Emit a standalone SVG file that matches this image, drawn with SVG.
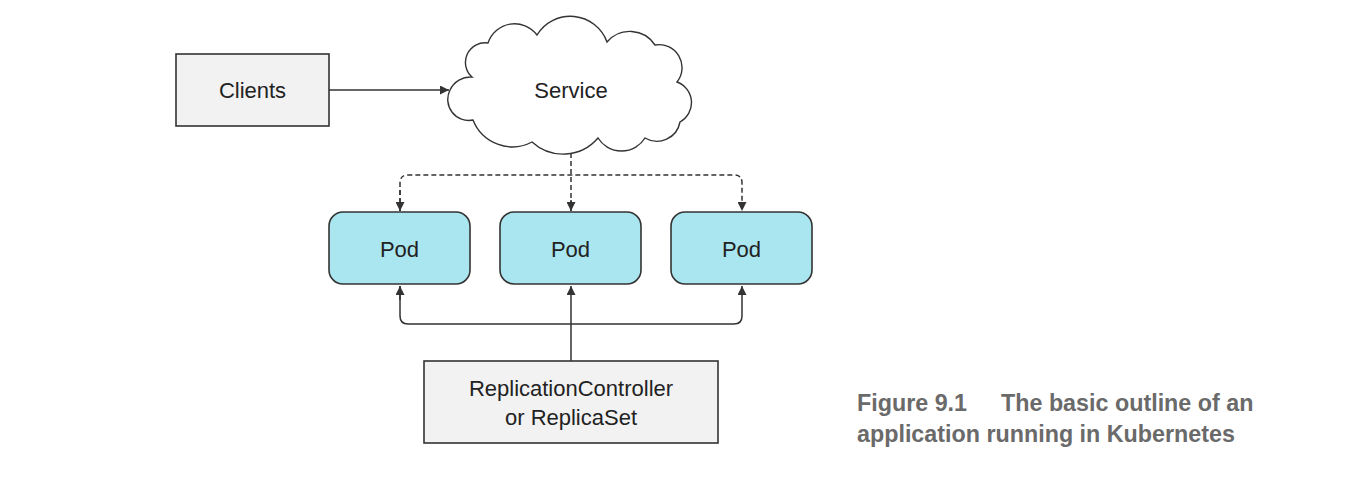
<svg xmlns="http://www.w3.org/2000/svg" width="1360" height="487" viewBox="0 0 1360 487">
<style>
.box{fill:#f2f2f2;stroke:#333;stroke-width:1.6}
.pod{fill:#aae6f0;stroke:#333;stroke-width:1.6}
.lbl{font-family:"Liberation Sans",Arial,sans-serif;font-size:22px;fill:#222;text-anchor:middle}
.cap{font-family:"Liberation Sans",Arial,sans-serif;font-size:23.3px;font-weight:bold;fill:#6a6a6a}
.ln{fill:none;stroke:#333;stroke-width:1.5}
.dash{stroke-dasharray:5 3}
</style>
<defs>
<marker id="ah" viewBox="0 0 10 10" refX="10" refY="5" markerWidth="9" markerHeight="9" markerUnits="userSpaceOnUse" orient="auto">
<path d="M0,0 L10,5 L0,10 Z" fill="#333"/>
</marker>
</defs>
<rect width="1360" height="487" fill="#fff"/>
<g id="connectors">
<path class="ln" d="M329,90 H449" marker-end="url(#ah)"/>
<path class="ln dash" d="M571,153 V211"/>
<path class="ln dash" d="M400,211 V183 Q400,175 408,175 H734 Q742,175 742,183 V211" marker-end="url(#ah)"/>
<path class="ln dash" d="M571,200 V211" marker-end="url(#ah)"/>
<path class="ln dash" d="M400,190 V211" marker-end="url(#ah)"/>
<path class="ln" d="M571,361 V286" marker-end="url(#ah)"/>
<path class="ln" d="M400,286 V316 Q400,324 408,324 H734 Q742,324 742,316 V286" marker-end="url(#ah)"/>
<path class="ln" d="M400,300 V286" marker-end="url(#ah)"/>
</g>
<g id="clients">
<rect class="box" x="176" y="54" width="153" height="72"/>
<text class="lbl" x="252.5" y="98">Clients</text>
</g>
<g id="service">
<path fill="#fff" stroke="#333" stroke-width="1.4" d="M450,90 A22.5,22.5 0 0 1 472,77 A19.6,19.6 0 0 1 488,43 A28,28 0 0 1 537,35 A39,39 0 0 1 607,42 A30,30 0 0 1 655,45 A23,23 0 0 1 677,82 A22,22 0 0 1 680,122 A23.5,23.5 0 0 1 645,138 A27.7,27.7 0 0 1 598,138 A46,46 0 0 1 532,142 A42.4,42.4 0 0 1 473,120 A21,21 0 0 1 450,90 Z"/>
<text class="lbl" x="571" y="98">Service</text>
</g>
<g id="pod1">
<rect class="pod" x="329" y="212" width="141" height="72" rx="14"/>
<text class="lbl" x="399.5" y="257">Pod</text>
</g>
<g id="pod2">
<rect class="pod" x="500" y="212" width="141" height="72" rx="14"/>
<text class="lbl" x="570.5" y="257">Pod</text>
</g>
<g id="pod3">
<rect class="pod" x="671" y="212" width="141" height="72" rx="14"/>
<text class="lbl" x="741.5" y="257">Pod</text>
</g>
<g id="rc">
<rect class="box" x="424" y="361" width="294" height="82"/>
<text class="lbl" x="571" y="396">ReplicationController</text>
<text class="lbl" x="571" y="425">or ReplicaSet</text>
</g>
<g id="caption">
<text class="cap" x="857" y="411">Figure 9.1</text>
<text class="cap" x="1001" y="411">The basic outline of an</text>
<text class="cap" x="857" y="442">application running in Kubernetes</text>
</g>
</svg>
